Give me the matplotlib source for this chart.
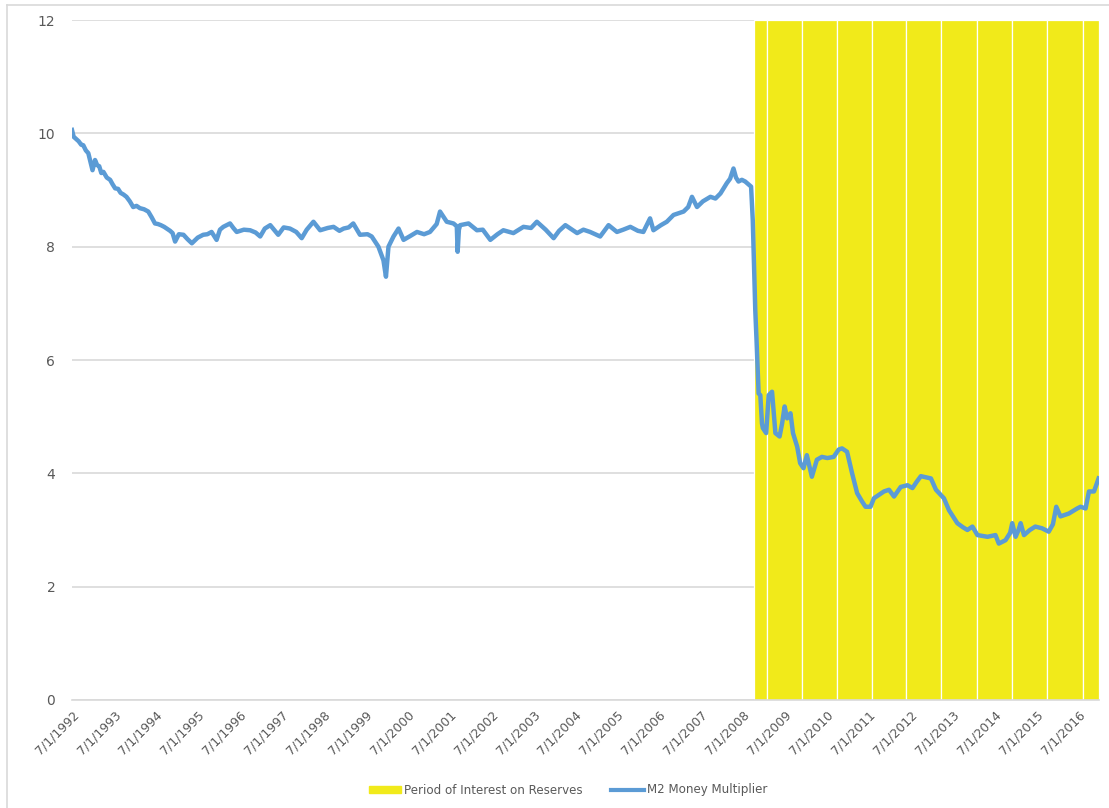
import matplotlib
matplotlib.use("Agg")
import matplotlib.pyplot as plt
from matplotlib.lines import Line2D
import numpy as np

# M2 money multiplier (decimal years)
years = [1992.50, 1992.54, 1992.60, 1992.66, 1992.72, 1992.77, 1992.83, 1992.89, 1992.99,
         1993.05, 1993.10, 1993.15, 1993.20, 1993.25, 1993.33, 1993.41, 1993.47, 1993.53,
         1993.60, 1993.66, 1993.73, 1993.80, 1993.88, 1993.96, 1994.04, 1994.12, 1994.22,
         1994.32, 1994.40, 1994.48, 1994.55, 1994.62, 1994.70, 1994.76, 1994.84, 1994.90,
         1994.96, 1995.05, 1995.16, 1995.26, 1995.36, 1995.50, 1995.63, 1995.73, 1995.83,
         1995.95, 1996.03, 1996.11, 1996.27, 1996.35, 1996.43, 1996.60, 1996.75, 1996.88,
         1996.99, 1997.10, 1997.23, 1997.42, 1997.55, 1997.70, 1997.85, 1997.98, 1998.10,
         1998.26, 1998.42, 1998.60, 1998.74, 1998.88, 1998.98, 1999.10, 1999.21, 1999.37,
         1999.55, 1999.65, 1999.81, 1999.93, 1999.99, 2000.05, 2000.17, 2000.29, 2000.41,
         2000.55, 2000.73, 2000.90, 2001.04, 2001.20, 2001.28, 2001.44, 2001.60, 2001.68,
         2001.70, 2001.73, 2001.76, 2001.96, 2002.16, 2002.30, 2002.48, 2002.65, 2002.79,
         2003.03, 2003.27, 2003.45, 2003.59, 2003.80, 2003.99, 2004.12, 2004.27, 2004.55,
         2004.70, 2004.86, 2005.10, 2005.30, 2005.50, 2005.65, 2005.82, 2006.00, 2006.13,
         2006.29, 2006.37, 2006.55, 2006.69, 2006.85, 2007.09, 2007.20, 2007.29, 2007.41,
         2007.55, 2007.73, 2007.85, 2007.97, 2008.12, 2008.20, 2008.28, 2008.34, 2008.40,
         2008.48, 2008.56, 2008.70, 2008.74, 2008.76, 2008.80, 2008.83, 2008.88, 2008.92,
         2008.96, 2008.98, 2009.06, 2009.12, 2009.20, 2009.28, 2009.38, 2009.44, 2009.50,
         2009.56, 2009.64, 2009.70, 2009.80, 2009.87, 2009.95, 2010.03, 2010.15, 2010.27,
         2010.39, 2010.52, 2010.67, 2010.79, 2010.87, 2010.99, 2011.11, 2011.23, 2011.35,
         2011.43, 2011.55, 2011.63, 2011.75, 2011.87, 2011.99, 2012.11, 2012.27, 2012.43,
         2012.55, 2012.65, 2012.75, 2012.99, 2013.11, 2013.30, 2013.42, 2013.62, 2013.75,
         2013.86, 2013.98, 2014.10, 2014.34, 2014.53, 2014.61, 2014.77, 2014.88, 2014.93,
         2015.01, 2015.08, 2015.13, 2015.21, 2015.35, 2015.48, 2015.64, 2015.80, 2015.90,
         2015.98, 2016.08, 2016.28, 2016.48, 2016.56, 2016.68, 2016.76, 2016.88, 2016.99]
m2_mult = [10.06, 9.94, 9.90, 9.86, 9.80, 9.79, 9.70, 9.65, 9.35,
           9.53, 9.44, 9.42, 9.30, 9.32, 9.22, 9.18, 9.10, 9.03,
           9.02, 8.95, 8.92, 8.88, 8.80, 8.70, 8.72, 8.68, 8.66,
           8.62, 8.52, 8.41, 8.40, 8.38, 8.35, 8.32, 8.28, 8.24,
           8.09, 8.22, 8.21, 8.13, 8.06, 8.16, 8.21, 8.22, 8.26,
           8.12, 8.30, 8.35, 8.41, 8.33, 8.26, 8.30, 8.29, 8.25,
           8.18, 8.32, 8.38, 8.21, 8.34, 8.32, 8.26, 8.15, 8.30,
           8.44, 8.29, 8.33, 8.35, 8.28, 8.32, 8.34, 8.41, 8.21,
           8.22, 8.18, 8.00, 7.76, 7.47, 8.00, 8.18, 8.32, 8.12,
           8.18, 8.26, 8.22, 8.26, 8.40, 8.62, 8.44, 8.41, 8.36,
           7.91, 8.30, 8.38, 8.41, 8.29, 8.30, 8.12, 8.22, 8.29,
           8.24, 8.35, 8.33, 8.44, 8.30, 8.15, 8.28, 8.38, 8.24,
           8.30, 8.26, 8.18, 8.38, 8.26, 8.30, 8.35, 8.28, 8.26,
           8.50, 8.29, 8.38, 8.44, 8.56, 8.62, 8.70, 8.88, 8.70,
           8.80, 8.88, 8.85, 8.94, 9.12, 9.20, 9.38, 9.22, 9.15,
           9.18, 9.15, 9.06, 8.47, 7.94, 6.88, 6.35, 5.41, 5.38,
           4.88, 4.80, 4.71, 5.38, 5.44, 4.71, 4.65, 4.88, 5.18,
           4.97, 5.06, 4.71, 4.47, 4.18, 4.09, 4.32, 3.94, 4.24,
           4.29, 4.27, 4.29, 4.42, 4.44, 4.38, 4.00, 3.65, 3.50,
           3.41, 3.41, 3.56, 3.62, 3.68, 3.71, 3.59, 3.76, 3.79,
           3.74, 3.85, 3.95, 3.91, 3.71, 3.56, 3.35, 3.12, 3.05,
           3.00, 3.06, 2.91, 2.88, 2.91, 2.76, 2.82, 2.95, 3.12,
           2.88, 3.00, 3.12, 2.91, 3.00, 3.06, 3.03, 2.97, 3.10,
           3.41, 3.24, 3.29, 3.38, 3.41, 3.38, 3.68, 3.68, 3.91]

# yellow column series: "Period of Interest on Reserves" (left edges of columns)
ior_edges = [2008.78, 2009.08, 2009.91, 2010.76, 2011.58, 2012.40, 2013.24,
             2014.09, 2014.93, 2015.77, 2016.61, 2017.00]
ior_level = 12

tick_years = list(range(1992, 2017))
tick_labels = [f"7/1/{y}" for y in tick_years]

yellow = "#F1EA1A"
blue = "#5B9BD5"
grey_txt = "#595959"
grid_c = "#D9D9D9"

fig = plt.figure(figsize=(11.09, 8.08), dpi=100)
ax = fig.add_axes([0.0649, 0.1337, 0.9261, 0.8415])

widths = np.diff(ior_edges)
ax.bar(ior_edges[:-1], ior_level, width=widths, align="edge", color=yellow,
       edgecolor="white", linewidth=0.9, zorder=1)
ax.plot(years, m2_mult, color=blue, lw=3.2, solid_joinstyle="round", zorder=3)

ax.set_xlim(1992.5, 2017.0)
ax.set_ylim(0, 12)
ax.set_yticks(range(0, 13, 2))
ax.set_xticks([y + 0.5 for y in tick_years])
ax.set_xticklabels(tick_labels, rotation=45, ha="right", rotation_mode="anchor")
ax.tick_params(axis="both", length=0, colors=grey_txt, labelsize=9)
ax.tick_params(axis="y", pad=12, labelsize=10)
ax.tick_params(axis="x", pad=6)
ax.yaxis.grid(True, color=grid_c, lw=1.2, zorder=0)
ax.set_axisbelow(True)
for s in ["top", "right", "left"]:
    ax.spines[s].set_visible(False)
ax.spines["bottom"].set_color(grid_c)
ax.spines["bottom"].set_linewidth(1.2)

# chart area border (Excel style)
fig.add_artist(Line2D([7 / 1109, 7 / 1109], [0, 1 - 5 / 808], color=grid_c, lw=1.2))
fig.add_artist(Line2D([7 / 1109, 1], [1 - 5 / 808, 1 - 5 / 808], color=grid_c, lw=1.2))

handles = [plt.Rectangle((0, 0), 1, 1, color=yellow),
           Line2D([0], [0], color=blue, lw=3)]
fig.legend(handles, ["Period of Interest on Reserves", "M2 Money Multiplier"],
           loc="center", bbox_to_anchor=(0.512, 1 - 790 / 808), ncol=2, frameon=False,
           fontsize=8.6, labelcolor=grey_txt, handlelength=2.7, handleheight=0.5,
           handletextpad=0.25, columnspacing=2.4)

fig.savefig("out.png", dpi=100)
